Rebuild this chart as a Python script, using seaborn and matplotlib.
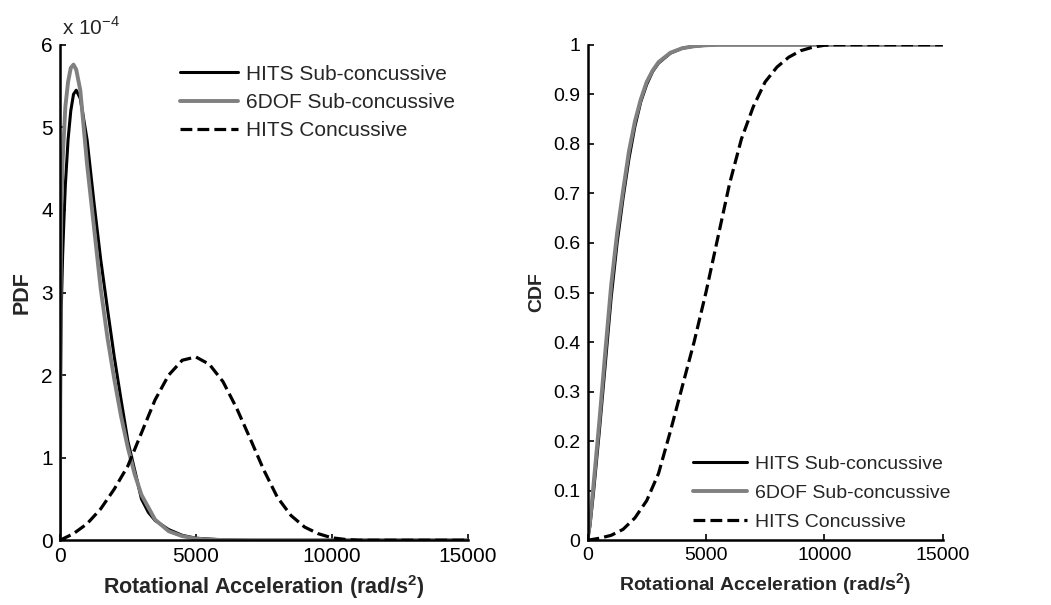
import numpy as np
import pandas as pd
import matplotlib
matplotlib.use("Agg")
import matplotlib.pyplot as plt
import seaborn as sns

# --- data (x in rad/s^2) -----------------------------------------------------
# PDF values are given in units of 1e-4
pdf_sub_x = [0, 25, 50, 100, 150, 200, 300, 400, 500, 600, 750, 1000, 1250, 1500,
             1750, 2000, 2250, 2500, 2750, 3000, 3250, 3500, 4000, 4500, 5000,
             6000, 7000, 15000]
pdf_hits_sub = [0, 2.0, 2.8, 3.45, 3.9, 4.3, 4.85, 5.2, 5.4, 5.45, 5.35, 4.85, 4.1, 3.4,
                2.8, 2.22, 1.7, 1.2, 0.85, 0.5, 0.34, 0.24, 0.13, 0.06, 0.025,
                0.005, 0, 0]
pdf_6dof_x = [0, 25, 50, 100, 200, 300, 400, 500, 600, 750, 1000, 1250, 1500, 1750,
              2000, 2250, 2500, 2750, 3000, 3500, 4000, 4500, 5000, 5500, 6000,
              7000, 15000]
pdf_6dof_sub = [0, 3.0, 4.0, 4.6, 5.25, 5.55, 5.72, 5.76, 5.7, 5.45, 4.55, 3.8, 3.05,
                2.45, 1.95, 1.5, 1.12, 0.8, 0.55, 0.25, 0.11, 0.05, 0.02, 0.008,
                0.003, 0, 0]
conc_x = [0, 500, 1000, 1500, 2000, 2500, 3000, 3500, 4000, 4500, 5000, 5500, 6000,
          6500, 7000, 7500, 8000, 8500, 9000, 9500, 10000, 10500, 11000, 15000]
pdf_hits_conc = [0, 0.08, 0.2, 0.38, 0.62, 0.9, 1.3, 1.7, 2.0, 2.18, 2.22, 2.13, 1.92,
                 1.6, 1.23, 0.85, 0.52, 0.3, 0.16, 0.08, 0.03, 0.01, 0, 0]

cdf_sub_x = [0, 100, 250, 500, 750, 1000, 1250, 1500, 1750, 2000, 2250, 2500, 2750,
             3000, 3500, 4000, 4500, 5000, 5500, 15000]
cdf_hits_sub = [0, 0.028, 0.095, 0.22, 0.355, 0.49, 0.6, 0.69, 0.77, 0.835, 0.885,
                0.92, 0.946, 0.963, 0.983, 0.993, 0.997, 0.999, 1.0, 1.0]
cdf_6dof_sub = [0, 0.035, 0.11, 0.24, 0.38, 0.515, 0.62, 0.705, 0.785, 0.845, 0.89,
                0.925, 0.948, 0.965, 0.984, 0.993, 0.997, 0.999, 1.0, 1.0]
cdf_hits_conc = [0, 0.004, 0.01, 0.022, 0.045, 0.08, 0.135, 0.22, 0.31, 0.40, 0.50,
                 0.61, 0.72, 0.81, 0.875, 0.925, 0.955, 0.975, 0.988, 0.995, 0.999,
                 1.0, 1.0, 1.0]

labels = ["HITS Sub-concussive", "6DOF Sub-concussive", "HITS Concussive"]
xlabel = "Rotational Acceleration (rad/s$^\\mathbf{2}$)"
cdf_ticklabels = ["0", "0.1", "0.2", "0.3", "0.4", "0.5", "0.6", "0.7", "0.8", "0.9", "1"]

# --- style -------------------------------------------------------------------
sns.set_style("white")
plt.rcParams["font.family"] = ["Liberation Sans", "DejaVu Sans"]
plt.rcParams["mathtext.fontset"] = "custom"
plt.rcParams["mathtext.rm"] = "Liberation Sans"
plt.rcParams["mathtext.bf"] = "Liberation Sans:bold"

fig = plt.figure(figsize=(10.51, 6.05), dpi=100)
ax1 = fig.add_axes([0.057, 0.107, 0.388, 0.819])
ax2 = fig.add_axes([0.559, 0.107, 0.338, 0.819])

styles = [dict(color="black", lw=2.2, linestyle="-"),
          dict(color="#808080", lw=2.8, linestyle="-"),
          dict(color="black", lw=2.3, linestyle="--")]

# === PDF =====================================================================
pdf_sets = [(pdf_sub_x, pdf_hits_sub), (pdf_6dof_x, pdf_6dof_sub), (conc_x, pdf_hits_conc)]
for (xs, ys), lab, st in zip(pdf_sets, labels, styles):
    sns.lineplot(x=xs, y=ys, ax=ax1, label=lab, **st)

# === CDF =====================================================================
cdf_sets = [(cdf_sub_x, cdf_hits_sub), (cdf_sub_x, cdf_6dof_sub), (conc_x, cdf_hits_conc)]
for (xs, ys), lab, st in zip(cdf_sets, labels, styles):
    sns.lineplot(x=xs, y=ys, ax=ax2, label=lab, **st)

# left panel in the reference is drawn a little larger than the right one
sizes = {ax1: (15.5, 15), ax2: (14, 14)}
for ax in (ax1, ax2):
    lab_fs, tick_fs = sizes[ax]
    ax.set_xlim(0, 15000)
    ax.set_xticks([0, 5000, 10000, 15000])
    ax.set_xlabel(xlabel, fontsize=lab_fs, fontweight="bold", labelpad=5)
    for s in ("top", "right"):
        ax.spines[s].set_visible(False)
    for s in ("left", "bottom"):
        ax.spines[s].set_linewidth(1.8)
        ax.spines[s].set_color("black")
    ax.tick_params(direction="in", length=4, width=1.2, labelsize=tick_fs,
                   colors="black", left=True, bottom=True, pad=5)

ax1.set_ylim(0, 6)
ax1.set_yticks(range(0, 7))
ax1.set_ylabel("PDF", fontsize=15.5, fontweight="bold", labelpad=6)
ax1.text(0.005, 1.012, "x 10$^{-4}$", transform=ax1.transAxes, fontsize=15,
         ha="left", va="bottom")

ax2.set_ylim(0, 1)
ax2.set_yticks(np.round(np.arange(0, 1.01, 0.1), 1))
ax2.set_yticklabels(cdf_ticklabels)
ax2.set_ylabel("CDF", fontsize=14, fontweight="bold", labelpad=6)

leg_kw = dict(frameon=False, handlelength=2.8, handletextpad=0.4,
              borderpad=0, borderaxespad=0, loc="upper left")
ax1.legend(bbox_to_anchor=(0.294, 0.960), fontsize=15, labelspacing=0.45, **leg_kw)
ax2.legend(bbox_to_anchor=(0.296, 0.172), fontsize=14, labelspacing=0.6, **leg_kw)

fig.savefig("out.png", dpi=100, facecolor="white")
